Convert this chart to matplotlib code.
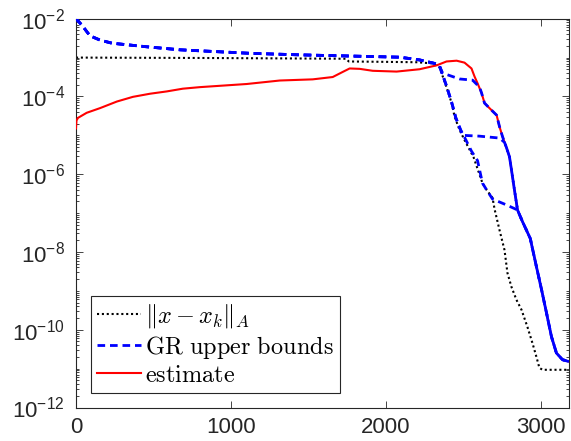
import numpy as np
import matplotlib
matplotlib.use("Agg")
import matplotlib.pyplot as plt
from matplotlib.ticker import FixedLocator, LogLocator, FuncFormatter, NullFormatter

plt.rcParams['font.family'] = ['Liberation Sans', 'DejaVu Sans']
plt.rcParams['mathtext.fontset'] = 'custom'
plt.rcParams['mathtext.rm'] = 'Liberation Sans'
plt.rcParams['mathtext.it'] = 'Liberation Sans:italic'
plt.rcParams['lines.scale_dashes'] = False

# error ||x - x_k||_A  (y given as log10)
err_x = [0, 800, 1740, 1760, 2000, 2200, 2300, 2345, 2389, 2423, 2442, 2474, 2506,
         2539, 2565, 2622, 2648, 2687, 2700, 2732, 2764, 2783, 2809, 2841, 2874,
         2912, 2944, 2970, 2989, 3009, 3180]
err_log = [-3.00, -3.01, -3.03, -3.10, -3.11, -3.12, -3.15, -3.25, -3.75, -4.17,
           -4.52, -4.86, -5.12, -5.37, -5.57, -6.23, -6.40, -6.61, -6.90, -7.44,
           -7.95, -8.54, -8.90, -9.23, -9.49, -9.93, -10.34, -10.70, -10.98,
           -11.03, -11.03]

# estimate
est_x = [0, 3, 13, 69, 155, 264, 367, 477, 586, 689, 800, 1100, 1314, 1527, 1656,
         1720, 1765, 1830, 1914, 2068, 2216, 2326, 2390, 2455, 2506, 2551, 2571,
         2590, 2616, 2635, 2667, 2713, 2732, 2751, 2777, 2796, 2809, 2828, 2848,
         2880, 2930, 2970, 3003, 3035, 3067, 3099, 3138, 3180]
est_log = [-4.82, -4.62, -4.55, -4.42, -4.30, -4.13, -4.01, -3.93, -3.87, -3.80,
           -3.76, -3.68, -3.59, -3.56, -3.50, -3.37, -3.28, -3.29, -3.34, -3.36,
           -3.30, -3.20, -3.10, -3.08, -3.13, -3.28, -3.49, -3.66, -3.91, -4.17,
           -4.30, -4.48, -4.78, -5.03, -5.32, -5.55, -5.89, -6.40, -6.92, -7.22,
           -7.65, -8.38, -8.97, -9.57, -10.18, -10.60, -10.77, -10.82]

# GR upper bounds: common start, then three branches that join the estimate
gr_x = [0, 37, 90, 155, 232, 450, 670, 1121, 1443, 1765, 2088, 2216, 2313, 2345]
gr_log = [-2.00, -2.16, -2.44, -2.55, -2.63, -2.72, -2.80, -2.89, -2.93, -2.96,
          -2.99, -3.06, -3.15, -3.22]
gr1_x = [2365, 2474, 2558, 2603]
gr1_log = [-3.40, -3.55, -3.58, -3.76]
gr2_x = [2389, 2423, 2450, 2494, 2600, 2732, 2764]
gr2_log = [-3.72, -4.15, -4.55, -5.00, -5.02, -5.07, -5.18]
gr3_x = [2389, 2423, 2450, 2480, 2515, 2550, 2590, 2622, 2648, 2687, 2777, 2848]
gr3_log = [-3.72, -4.15, -4.55, -4.85, -5.12, -5.40, -5.65, -6.23, -6.40, -6.64,
           -6.79, -6.92]

fig = plt.figure(figsize=(5.71, 4.41), dpi=100)
ax = fig.add_axes([76/571, 1 - 407.5/441, 493/571, 388.8/441])

dotted = (0, (1.5, 2.0))
dashed = (0, (5.5, 3.5))

l_err, = ax.plot(err_x, 10.0**np.array(err_log), color='k', lw=1.5, ls=dotted, zorder=2)
l_est, = ax.plot(est_x, 10.0**np.array(est_log), color='r', lw=1.5, zorder=3)

for bx, by in [(gr1_x, gr1_log), (gr2_x, gr2_log), (gr3_x, gr3_log)]:
    tail = [i for i in range(len(est_x)) if est_x[i] > bx[-1]]
    xs = gr_x + bx + [est_x[i] for i in tail]
    ys = gr_log + by + [est_log[i] for i in tail]
    l_gr, = ax.plot(xs, 10.0**np.array(ys), color='b', lw=2, ls=dashed, zorder=4)

ax.set_yscale('log')
ax.set_xlim(0, 3180)
ax.set_ylim(1e-12, 1e-2)

ax.xaxis.set_major_locator(FixedLocator([0, 1000, 2000, 3000]))
ax.yaxis.set_major_locator(FixedLocator([1e-12, 1e-10, 1e-8, 1e-6, 1e-4, 1e-2]))
ax.yaxis.set_minor_locator(LogLocator(base=10, subs=np.arange(1, 10), numticks=100))
ax.yaxis.set_minor_formatter(NullFormatter())
ax.yaxis.set_major_formatter(FuncFormatter(
    lambda v, p: r'$\mathregular{10^{%d}}$' % int(round(np.log10(v)))))

gray = '#262626'
for s in ax.spines.values():
    s.set_color(gray)
    s.set_linewidth(0.8)
ax.tick_params(which='both', direction='in', top=True, right=True,
               colors=gray, labelsize=16, width=0.6)
ax.tick_params(which='major', length=5, pad=7)
ax.tick_params(which='minor', length=2.5)
ax.tick_params(axis='y', which='major', pad=8)

leg = ax.legend([l_err, l_gr, l_est],
                [r'$\Vert x - x_k\Vert_A$', r'$\mathrm{GR\ upper\ bounds}$', r'$\mathrm{estimate}$'],
                loc='lower left', bbox_to_anchor=(0.0298, 0.038), borderaxespad=0,
                fancybox=False, framealpha=1, edgecolor=gray,
                handlelength=1.8, handletextpad=0.2, borderpad=0.25, labelspacing=0.15,
                prop={'size': 17.5})
leg.get_frame().set_linewidth(0.8)

# legend in Computer Modern
for t in leg.get_texts():
    t.set_math_fontfamily('cm')

fig.savefig('out.png', dpi=100)
